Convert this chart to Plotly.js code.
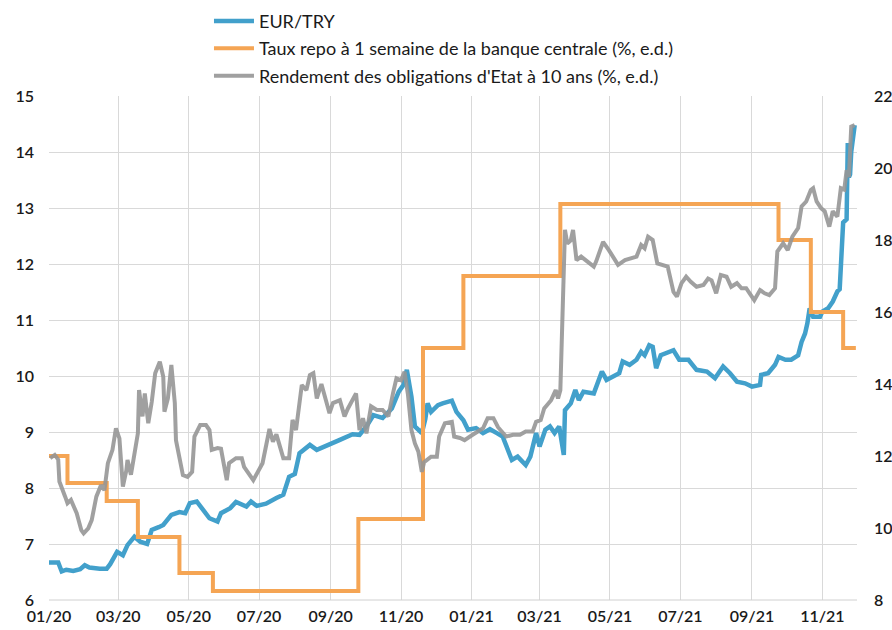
<!DOCTYPE html>
<html>
<head>
<meta charset="utf-8">
<script src="https://cdn.plot.ly/plotly-3.0.1.min.js"></script>
<style>html,body{margin:0;padding:0;background:#fff;}#chart{width:892px;height:630px;}</style>
</head>
<body>
<div id="chart"></div>
<script>
// EUR/TRY (left axis)
const eurDates = ["2020-01-01","2020-01-09","2020-01-12","2020-01-16","2020-01-22","2020-01-28","2020-02-01","2020-02-05","2020-02-14","2020-02-20","2020-02-23","2020-02-29","2020-03-05","2020-03-09","2020-03-15","2020-03-20","2020-03-26","2020-03-30","2020-04-05","2020-04-09","2020-04-16","2020-04-23","2020-04-28","2020-05-02","2020-05-08","2020-05-14","2020-05-19","2020-05-26","2020-05-29","2020-06-06","2020-06-11","2020-06-20","2020-06-24","2020-06-29","2020-07-07","2020-07-16","2020-07-22","2020-07-27","2020-08-01","2020-08-05","2020-08-14","2020-08-20","2020-08-29","2020-09-09","2020-09-20","2020-09-26","2020-10-02","2020-10-08","2020-10-16","2020-10-24","2020-10-30","2020-11-03","2020-11-06","2020-11-10","2020-11-13","2020-11-19","2020-11-22","2020-11-24","2020-11-27","2020-12-03","2020-12-07","2020-12-15","2020-12-19","2020-12-25","2020-12-29","2021-01-05","2021-01-11","2021-01-17","2021-01-23","2021-01-28","2021-02-05","2021-02-10","2021-02-17","2021-02-21","2021-02-26","2021-03-01","2021-03-06","2021-03-10","2021-03-14","2021-03-18","2021-03-22","2021-03-23","2021-03-28","2021-04-01","2021-04-04","2021-04-08","2021-04-17","2021-04-24","2021-04-28","2021-05-07","2021-05-09","2021-05-12","2021-05-18","2021-05-24","2021-05-28","2021-05-31","2021-06-04","2021-06-07","2021-06-10","2021-06-14","2021-06-20","2021-06-25","2021-06-30","2021-07-08","2021-07-15","2021-07-24","2021-07-31","2021-08-07","2021-08-13","2021-08-19","2021-08-26","2021-09-01","2021-09-08","2021-09-09","2021-09-15","2021-09-21","2021-09-24","2021-09-30","2021-10-05","2021-10-11","2021-10-14","2021-10-17","2021-10-19","2021-10-21","2021-10-24","2021-10-30","2021-11-01","2021-11-06","2021-11-10","2021-11-14","2021-11-16","2021-11-17","2021-11-18","2021-11-19","2021-11-22","2021-11-23","2021-11-24","2021-11-25","2021-11-26","2021-11-29"];
const eurTry = [6.67,6.67,6.51,6.54,6.52,6.55,6.62,6.58,6.56,6.56,6.64,6.86,6.80,6.98,7.13,7.04,7.00,7.25,7.30,7.34,7.52,7.57,7.55,7.73,7.76,7.61,7.46,7.40,7.55,7.64,7.75,7.67,7.76,7.68,7.72,7.82,7.88,8.20,8.25,8.62,8.77,8.68,8.77,8.86,8.96,8.95,9.10,9.30,9.25,9.42,9.72,9.84,10.11,9.63,9.10,8.98,9.23,9.51,9.36,9.48,9.51,9.56,9.36,9.21,9.04,9.07,8.98,9.05,8.98,8.92,8.50,8.56,8.41,8.56,8.98,8.74,9.04,9.10,8.98,9.10,8.59,9.39,9.51,9.75,9.57,9.72,9.69,10.08,9.93,10.02,10.05,10.26,10.20,10.29,10.43,10.37,10.55,10.52,10.14,10.37,10.43,10.46,10.29,10.29,10.11,10.08,9.96,10.17,10.05,9.90,9.87,9.81,9.84,10.02,10.05,10.20,10.34,10.29,10.29,10.37,10.61,10.76,10.94,11.21,11.06,11.06,11.15,11.21,11.33,11.51,11.55,12.13,12.67,12.74,12.80,14.16,13.55,13.60,14.00,14.48];

// Taux repo à 1 semaine (right axis, step)
const repoDates = ["2020-01-01","2020-01-17","2020-02-20","2020-03-18","2020-04-23","2020-05-22","2020-09-25","2020-11-20","2020-12-25","2021-03-19","2021-09-24","2021-10-22","2021-11-19","2021-11-30"];
const repoRate = [12,11.25,10.75,9.75,8.75,8.25,10.25,15,17,19,18,16,15,15];

// Rendement obligations d'Etat à 10 ans (right axis)
const bondDates = ["2020-01-02","2020-01-06","2020-01-09","2020-01-10","2020-01-15","2020-01-17","2020-01-20","2020-01-25","2020-01-29","2020-01-31","2020-02-04","2020-02-07","2020-02-11","2020-02-15","2020-02-18","2020-02-21","2020-02-25","2020-02-28","2020-03-02","2020-03-05","2020-03-08","2020-03-09","2020-03-12","2020-03-15","2020-03-18","2020-03-19","2020-03-22","2020-03-24","2020-03-27","2020-03-30","2020-04-02","2020-04-06","2020-04-09","2020-04-10","2020-04-13","2020-04-16","2020-04-19","2020-04-20","2020-04-23","2020-04-26","2020-04-30","2020-05-04","2020-05-06","2020-05-11","2020-05-16","2020-05-19","2020-05-21","2020-05-26","2020-05-29","2020-05-31","2020-06-03","2020-06-05","2020-06-11","2020-06-16","2020-06-18","2020-06-26","2020-07-04","2020-07-10","2020-07-13","2020-07-16","2020-07-22","2020-07-27","2020-07-30","2020-08-02","2020-08-07","2020-08-11","2020-08-14","2020-08-17","2020-08-20","2020-08-24","2020-08-28","2020-08-31","2020-09-03","2020-09-09","2020-09-13","2020-09-16","2020-09-23","2020-09-26","2020-09-29","2020-10-02","2020-10-06","2020-10-11","2020-10-16","2020-10-21","2020-10-25","2020-10-28","2020-11-01","2020-11-04","2020-11-07","2020-11-10","2020-11-13","2020-11-16","2020-11-19","2020-11-21","2020-11-27","2020-12-02","2020-12-04","2020-12-09","2020-12-15","2020-12-17","2020-12-22","2020-12-26","2021-01-02","2021-01-11","2021-01-15","2021-01-20","2021-01-24","2021-01-28","2021-01-31","2021-02-06","2021-02-12","2021-02-17","2021-02-23","2021-02-26","2021-03-02","2021-03-05","2021-03-11","2021-03-15","2021-03-17","2021-03-19","2021-03-22","2021-03-23","2021-03-25","2021-03-28","2021-03-30","2021-04-02","2021-04-06","2021-04-11","2021-04-17","2021-04-19","2021-04-25","2021-04-30","2021-05-05","2021-05-08","2021-05-14","2021-05-20","2021-05-24","2021-05-28","2021-05-31","2021-06-03","2021-06-07","2021-06-11","2021-06-16","2021-06-20","2021-06-25","2021-06-28","2021-07-02","2021-07-06","2021-07-10","2021-07-15","2021-07-21","2021-07-25","2021-07-28","2021-08-01","2021-08-05","2021-08-10","2021-08-14","2021-08-19","2021-08-23","2021-08-27","2021-08-30","2021-09-03","2021-09-08","2021-09-12","2021-09-16","2021-09-21","2021-09-23","2021-09-28","2021-10-02","2021-10-06","2021-10-11","2021-10-14","2021-10-18","2021-10-22","2021-10-24","2021-10-27","2021-10-31","2021-11-03","2021-11-07","2021-11-10","2021-11-14","2021-11-17","2021-11-20","2021-11-22","2021-11-24","2021-11-26","2021-11-29"];
const bondYield = [11.94,12.03,11.90,11.29,10.87,10.69,10.78,10.41,9.94,9.85,9.99,10.22,10.87,11.19,11.05,11.80,12.17,12.77,12.49,11.15,11.60,11.89,11.48,12.08,12.63,13.83,13.10,13.74,12.91,13.50,14.30,14.62,14.20,13.23,13.60,14.53,13.47,12.44,11.89,11.47,11.42,11.56,12.54,12.86,12.86,12.72,12.17,12.22,12.20,11.80,11.33,11.80,11.94,11.94,11.70,11.33,11.80,12.75,12.40,12.60,11.94,11.94,13.00,12.72,13.97,13.83,14.25,14.30,13.60,14.00,13.55,13.19,13.47,13.55,13.10,13.32,13.74,12.72,13.05,12.63,13.38,13.28,13.28,13.10,13.74,14.16,14.10,14.34,13.70,12.72,12.35,12.12,11.56,11.83,11.98,11.98,12.54,12.91,12.95,12.54,12.50,12.44,12.59,12.77,13.05,13.05,12.80,12.63,12.54,12.59,12.59,12.68,12.68,12.95,13.00,13.32,13.55,13.83,13.60,13.83,17.54,18.28,17.90,17.99,18.28,17.44,17.54,17.40,17.26,17.40,17.95,17.72,17.49,17.31,17.44,17.49,17.54,17.86,17.77,18.09,18.00,17.35,17.31,17.26,16.56,16.43,16.80,16.98,16.84,16.70,16.75,16.93,16.88,16.52,17.03,16.98,16.70,16.80,16.66,16.66,16.52,16.33,16.61,16.52,16.47,16.66,17.68,17.91,17.72,18.09,18.33,18.93,19.07,19.39,19.44,19.07,18.88,18.80,18.37,18.80,18.65,19.44,19.40,19.94,19.75,21.15,21.19];

const leftTicks = [6,7,8,9,10,11,12,13,14,15];
const rightTicks = [8,10,12,14,16,18,20,22];
const xTickVals = ["2020-01-01","2020-03-01","2020-05-01","2020-07-01","2020-09-01","2020-11-01","2021-01-01","2021-03-01","2021-05-01","2021-07-01","2021-09-01","2021-11-01"];
const xTickText = ["01/20","03/20","05/20","07/20","09/20","11/20","01/21","03/21","05/21","07/21","09/21","11/21"];

const FONT = "Lato, 'Open Sans', sans-serif";

const traces = [
  {x: eurDates, y: eurTry, name: "EUR/TRY", type: "scatter", mode: "lines",
   line: {color: "#42a0cb", width: 4.5}, yaxis: "y", legendgroup: "a"},
  {x: repoDates, y: repoRate, name: "Taux repo à 1 semaine de la banque centrale (%, e.d.)", type: "scatter", mode: "lines",
   line: {color: "#f5a554", width: 4, shape: "hv"}, yaxis: "y2", legendgroup: "b"},
  {x: bondDates, y: bondYield, name: "Rendement des obligations d'Etat à 10 ans (%, e.d.)", type: "scatter", mode: "lines",
   line: {color: "rgba(150,150,150,0.9)", width: 4}, yaxis: "y2", legendgroup: "c"}
];

const layout = {
  width: 892, height: 630,
  margin: {l: 49, r: 35, t: 96, b: 30, autoexpand: false},
  paper_bgcolor: "#fff", plot_bgcolor: "#fff",
  font: {family: FONT, size: 16, color: "#1a1a1a"},
  showlegend: true,
  legend: {x: 0.198, y: 1.185, xanchor: "left", yanchor: "top", orientation: "v",
           traceorder: "grouped", tracegroupgap: 1, itemwidth: 40,
           font: {family: FONT, size: 18, color: "#1a1a1a"}, bgcolor: "rgba(0,0,0,0)"},
  xaxis: {type: "date", range: ["2020-01-01", "2021-12-01"], tickmode: "array",
          tickvals: xTickVals, ticktext: xTickText, showgrid: true, gridcolor: "#d9d9d9", gridwidth: 1,
          showline: false, zeroline: false, ticks: "", ticklabelstandoff: 5,
          tickfont: {family: FONT, size: 16, color: "#1a1a1a", weight: 600}},
  yaxis: {range: [6, 15], tickmode: "array", tickvals: leftTicks, showgrid: true, gridcolor: "#d9d9d9",
          zeroline: false, showline: false, ticks: "", ticklabelstandoff: 14,
          tickfont: {family: FONT, size: 16, color: "#1a1a1a", weight: 600}},
  yaxis2: {range: [8, 22], tickmode: "array", tickvals: rightTicks, overlaying: "y", side: "right",
           showgrid: false, zeroline: false, showline: false, ticks: "", ticklabelstandoff: 16,
           tickfont: {family: FONT, size: 16, color: "#1a1a1a", weight: 600}},
  shapes: [
    {type: "line", xref: "paper", yref: "paper", x0: 0, x1: 1, y0: 0, y1: 0, line: {color: "#d0d0d0", width: 1}}
  ]
};

Plotly.newPlot("chart", traces, layout, {displayModeBar: false, staticPlot: true});
</script>
</body>
</html>
